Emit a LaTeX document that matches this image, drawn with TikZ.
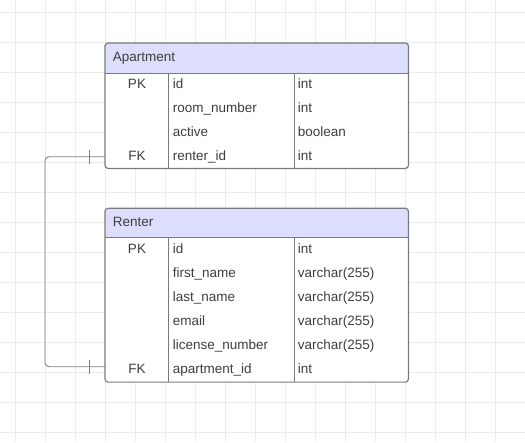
\documentclass[tikz,border=0pt]{standalone}
\usepackage{fontspec}
\setmainfont{Liberation Sans}
\usepackage{tikz}

\definecolor{gridgray}{RGB}{236,236,236}
\definecolor{framegray}{RGB}{122,122,130}
\definecolor{headblue}{RGB}{221,221,252}
\definecolor{textgray}{RGB}{62,62,62}
\definecolor{linkgray}{RGB}{128,128,128}

\tikzset{
  tablebox/.style={fill=white, minimum width=303pt, anchor=north west, inner sep=0pt},
  frame/.style={draw=framegray, line width=1.2pt},
  divider/.style={draw=framegray, line width=0.9pt},
  cell/.style={font=\fontsize{13.5}{15}\selectfont, text=textgray, inner sep=0pt},
  link/.style={draw=linkgray, line width=0.9pt}
}

\begin{document}
\begin{tikzpicture}[x=1pt, y=-1pt]
    \useasboundingbox (0,0) rectangle (525,442);
    \fill[white] (0,0) rectangle (525,442);
    \foreach \x in {15,45,...,525}
      \draw[gridgray] (\x,0) -- (\x,442);
    \foreach \y in {12,42,...,432}
      \draw[gridgray] (0,\y) -- (525,\y);

    % Apartment table
    \node[tablebox, minimum height=125pt] (apt) at (105,43) {};
    \begin{scope}
      \clip[rounded corners=3pt] (apt.north west) rectangle (apt.south east);
      \fill[headblue] (apt.north west) rectangle (408,73);
    \end{scope}
    \draw[divider] (105,73) -- (408,73) (168,73) -- (168,168) (294,73) -- (294,168);
    \draw[frame, rounded corners=3pt] (apt.north west) rectangle (apt.south east);
    \node[cell, anchor=base west] (apt-title) at (112.7,61) {Apartment};
    \foreach \key/\name/\type [count=\i] in {PK/id/int, /room\_number/int, /active/boolean, FK/renter\_id/int} {
      \node[cell, anchor=base] (apt-k\i) at (137,{64.3+24*\i}) {\key};
      \node[cell, anchor=base west] (apt-n\i) at (172.7,{64.3+24*\i}) {\name};
      \node[cell, anchor=base west] (apt-t\i) at (297.7,{64.3+24*\i}) {\type};
    }

    % Renter table
    \node[tablebox, minimum height=173.4pt] (ren) at (105,208.3) {};
    \begin{scope}
      \clip[rounded corners=3pt] (ren.north west) rectangle (ren.south east);
      \fill[headblue] (ren.north west) rectangle (408,237.7);
    \end{scope}
    \draw[divider] (105,237.7) -- (408,237.7) (168,237.7) -- (168,381.7) (294,237.7) -- (294,381.7);
    \draw[frame, rounded corners=3pt] (ren.north west) rectangle (ren.south east);
    \node[cell, anchor=base west] (ren-title) at (112.7,226) {Renter};
    \foreach \key/\name/\type [count=\i] in {PK/id/int, /first\_name/varchar(255), /last\_name/varchar(255), /email/varchar(255), /license\_number/varchar(255), FK/apartment\_id/int} {
      \node[cell, anchor=base] (ren-k\i) at (137,{229.3+24*\i}) {\key};
      \node[cell, anchor=base west] (ren-n\i) at (172.7,{229.3+24*\i}) {\name};
      \node[cell, anchor=base west] (ren-t\i) at (297.7,{229.3+24*\i}) {\type};
    }

    % one-to-one link
    \coordinate (apt-fk) at (105,156.7);
    \coordinate (ren-fk) at (105,366.7);
    \draw[link, rounded corners=4pt] (apt-fk) -- ++(-60,0) |- (ren-fk);
    \draw[link] ([xshift=-15.7pt]apt-fk) ++(0,-7) -- ++(0,14);
    \draw[link] ([xshift=-15.7pt]ren-fk) ++(0,-7) -- ++(0,14);
  \end{tikzpicture}
\end{document}
